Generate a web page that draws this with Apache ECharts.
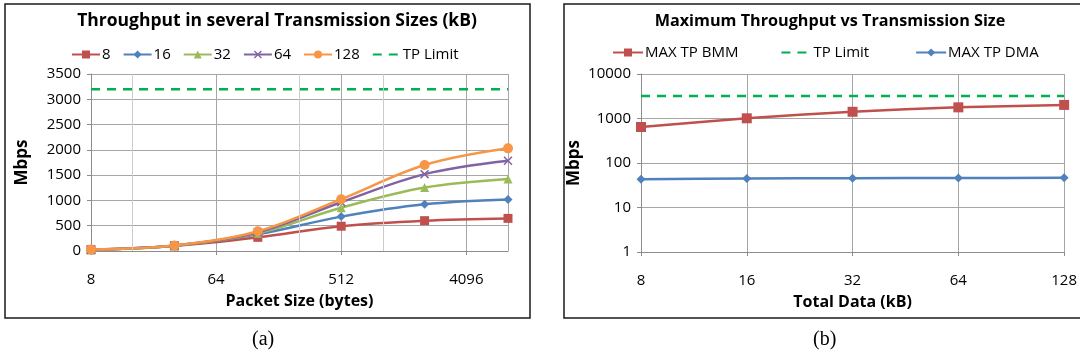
<!DOCTYPE html>
<html>
<head>
<meta charset="utf-8">
<script src="https://cdn.jsdelivr.net/npm/echarts@6/dist/echarts.min.js"></script>
<style>
html,body{margin:0;padding:0;background:#fff;}
#chart{width:1080px;height:360px;}
</style>
</head>
<body>
<div id="chart"></div>
<script>
// ---- data (a) ----
const packetSizes = [8, 32, 128, 512, 2048, 8192];
const tp8   = [25, 100, 270, 490, 600, 645];
const tp16  = [25, 105, 330, 680, 925, 1020];
const tp32  = [25, 105, 350, 855, 1255, 1425];
const tp64  = [25, 108, 370, 965, 1520, 1785];
const tp128 = [28, 110, 390, 1025, 1700, 2030];
const tpLimit = 3200;
const xTickLabelsA = [8, 64, 512, 4096];
const minorGridA = [16, 256, 1024];
// ---- data (b) ----
const totalData = ['8', '16', '32', '64', '128'];
const maxBMM = [645, 1010, 1415, 1780, 2020];
const maxDMA = [43, 45, 45.5, 46, 46.5];

const FONT = 'Open Sans';
const C = {red:'#C0504D', blue:'#4F81BD', green:'#9BBB59', purple:'#8064A2', orange:'#F79646', limit:'#00B050'};
const X_PATH = 'path://M0,1.2 L1.2,0 L5,3.8 L8.8,0 L10,1.2 L6.2,5 L10,8.8 L8.8,10 L5,6.2 L1.2,10 L0,8.8 L3.8,5 Z';

function pairs(ys){ return packetSizes.map((x,i)=>[x, ys[i]]); }
function lineA(name, ys, color, symbol, size){
  return {
    name, type:'line', xAxisIndex:0, yAxisIndex:0, data: pairs(ys),
    smooth:0.35, symbol, symbolSize:size, showSymbol:true,
    lineStyle:{color, width:2.5}, itemStyle:{color}, z:3
  };
}
function lineB(name, ys, color, symbol, size){
  return {
    name, type:'line', xAxisIndex:1, yAxisIndex:1, data: ys,
    smooth:0.3, symbol, symbolSize:size,
    lineStyle:{color, width:2.5}, itemStyle:{color}, z:3
  };
}

const axisText = {color:'#000', fontFamily:FONT, fontSize:15};
const nameText = {color:'#000', fontFamily:FONT, fontSize:16, fontWeight:'bold'};

const option = {
  animation:false,
  backgroundColor:'#fff',
  title:[
    {text:'Throughput in several Transmission Sizes (kB)', left:272, top:7, textAlign:'center',
     textStyle:{fontFamily:FONT, fontSize:17.5, fontWeight:'bold', color:'#000'}},
    {text:'Maximum Throughput vs Transmission Size', left:825, top:8, textAlign:'center',
     textStyle:{fontFamily:FONT, fontSize:16.2, fontWeight:'bold', color:'#000'}}
  ],
  legend:[
    {data:['8','16','32','64','128',{name:'TP Limit', itemStyle:{opacity:0}}], left:66, top:42, itemWidth:28, itemHeight:10, itemGap:12,
     textStyle:{fontFamily:FONT, fontSize:15, color:'#000', padding:[0,0,0,-3]}},
    {data:['MAX TP BMM',{name:'TP Limit ', itemStyle:{opacity:0}},'MAX TP DMA'], left:607, top:40, itemWidth:30, itemHeight:10, itemGap:42,
     textStyle:{fontFamily:FONT, fontSize:15, color:'#000', padding:[0,0,0,-3]}}
  ],
  grid:[
    {left:91, top:74, width:417, height:177},
    {left:641, top:74, width:427, height:178}
  ],
  xAxis:[
    {type:'log', logBase:2, gridIndex:0, min:8, max:8192, interval:3,
     name:'Packet Size (bytes)', nameLocation:'middle', nameGap:42, nameTextStyle:nameText,
     axisLine:{lineStyle:{color:'#8c8c8c', width:1}},
     axisTick:{show:true, length:4, lineStyle:{color:'#8c8c8c'}},
     axisLabel:{...axisText, margin:21, showMaxLabel:false,
       formatter:(v)=> xTickLabelsA.indexOf(Math.round(v))>=0 ? String(Math.round(v)) : ''},
     splitLine:{show:true, lineStyle:{color:'#a6a6a6', width:1}},
     minorTick:{show:false}, minorSplitLine:{show:false}},
    {type:'category', gridIndex:1, data:totalData, boundaryGap:false,
     name:'Total Data (kB)', nameLocation:'middle', nameGap:42, nameTextStyle:nameText,
     axisLine:{lineStyle:{color:'#8c8c8c', width:1}},
     axisTick:{show:true, length:4, alignWithLabel:true, lineStyle:{color:'#8c8c8c'}},
     axisLabel:{...axisText, margin:21, interval:0},
     splitLine:{show:true, interval:0, lineStyle:{color:'#a6a6a6', width:1}}}
  ],
  yAxis:[
    {type:'value', gridIndex:0, min:0, max:3500, interval:500,
     name:'Mbps', nameLocation:'middle', nameGap:60, nameRotate:90, nameTextStyle:{...nameText, fontSize:17},
     axisLine:{show:true, lineStyle:{color:'#8c8c8c', width:1}},
     axisTick:{show:true, length:4, lineStyle:{color:'#8c8c8c'}},
     axisLabel:{...axisText, margin:10, formatter:(v)=>String(v)},
     splitLine:{show:true, lineStyle:{color:'#a6a6a6', width:1}}},
    {type:'log', logBase:10, gridIndex:1, min:1, max:10000,
     name:'Mbps', nameLocation:'middle', nameGap:58, nameRotate:90, nameTextStyle:{...nameText, fontSize:17},
     axisLine:{show:true, lineStyle:{color:'#8c8c8c', width:1}},
     axisTick:{show:true, length:4, lineStyle:{color:'#8c8c8c'}},
     axisLabel:{...axisText, margin:10, formatter:(v)=>String(Math.round(v))},
     splitLine:{show:true, lineStyle:{color:'#a6a6a6', width:1}},
     minorTick:{show:false}, minorSplitLine:{show:false}}
  ],
  series:[
    {name:'_minor', type:'line', xAxisIndex:0, yAxisIndex:0, data:[], silent:true, z:1,
     markLine:{silent:true, symbol:['none','none'], label:{show:false}, animation:false,
       emphasis:{disabled:true},
       lineStyle:{color:'#cccccc', width:1, type:'solid'},
       data: minorGridA.map(x=>({xAxis:x, lineStyle:{type:'solid', color:'#cccccc', width:1}}))}},
    {name:'TP Limit', type:'line', xAxisIndex:0, yAxisIndex:0,
     data:[[packetSizes[0], tpLimit],[packetSizes[packetSizes.length-1], tpLimit]],
     symbol:'none', lineStyle:{color:C.limit, width:2.5, type:[9,7]}, itemStyle:{color:C.limit}, z:2},
    lineA('8', tp8, C.red, 'rect', 9),
    lineA('16', tp16, C.blue, 'diamond', 9),
    lineA('32', tp32, C.green, 'triangle', 9),
    lineA('64', tp64, C.purple, X_PATH, 9),
    lineA('128', tp128, C.orange, 'circle', 10),
    lineB('MAX TP BMM', maxBMM, C.red, 'rect', 10),
    {name:'TP Limit ', type:'line', xAxisIndex:1, yAxisIndex:1,
     data: totalData.map(()=>tpLimit),
     symbol:'none', lineStyle:{color:C.limit, width:2.5, type:[9,7]}, itemStyle:{color:C.limit}, z:2},
    lineB('MAX TP DMA', maxDMA, C.blue, 'diamond', 9)
  ],
  graphic:[
    {type:'rect', shape:{x:5, y:4, width:525, height:314}, style:{fill:'none', stroke:'#1a1a1a', lineWidth:1.5}, z:-1, silent:true},
    {type:'rect', shape:{x:564, y:4, width:530, height:314}, style:{fill:'none', stroke:'#1a1a1a', lineWidth:1.5}, z:-1, silent:true},
    {type:'text', left:252, top:330, style:{text:'(a)', font:'20px "Liberation Serif"', fill:'#000'}},
    {type:'text', left:813, top:330, style:{text:'(b)', font:'20px "Liberation Serif"', fill:'#000'}}
  ]
};

const chart = echarts.init(document.getElementById('chart'), null, {renderer:'canvas'});
chart.setOption(option);
</script>
</body>
</html>
